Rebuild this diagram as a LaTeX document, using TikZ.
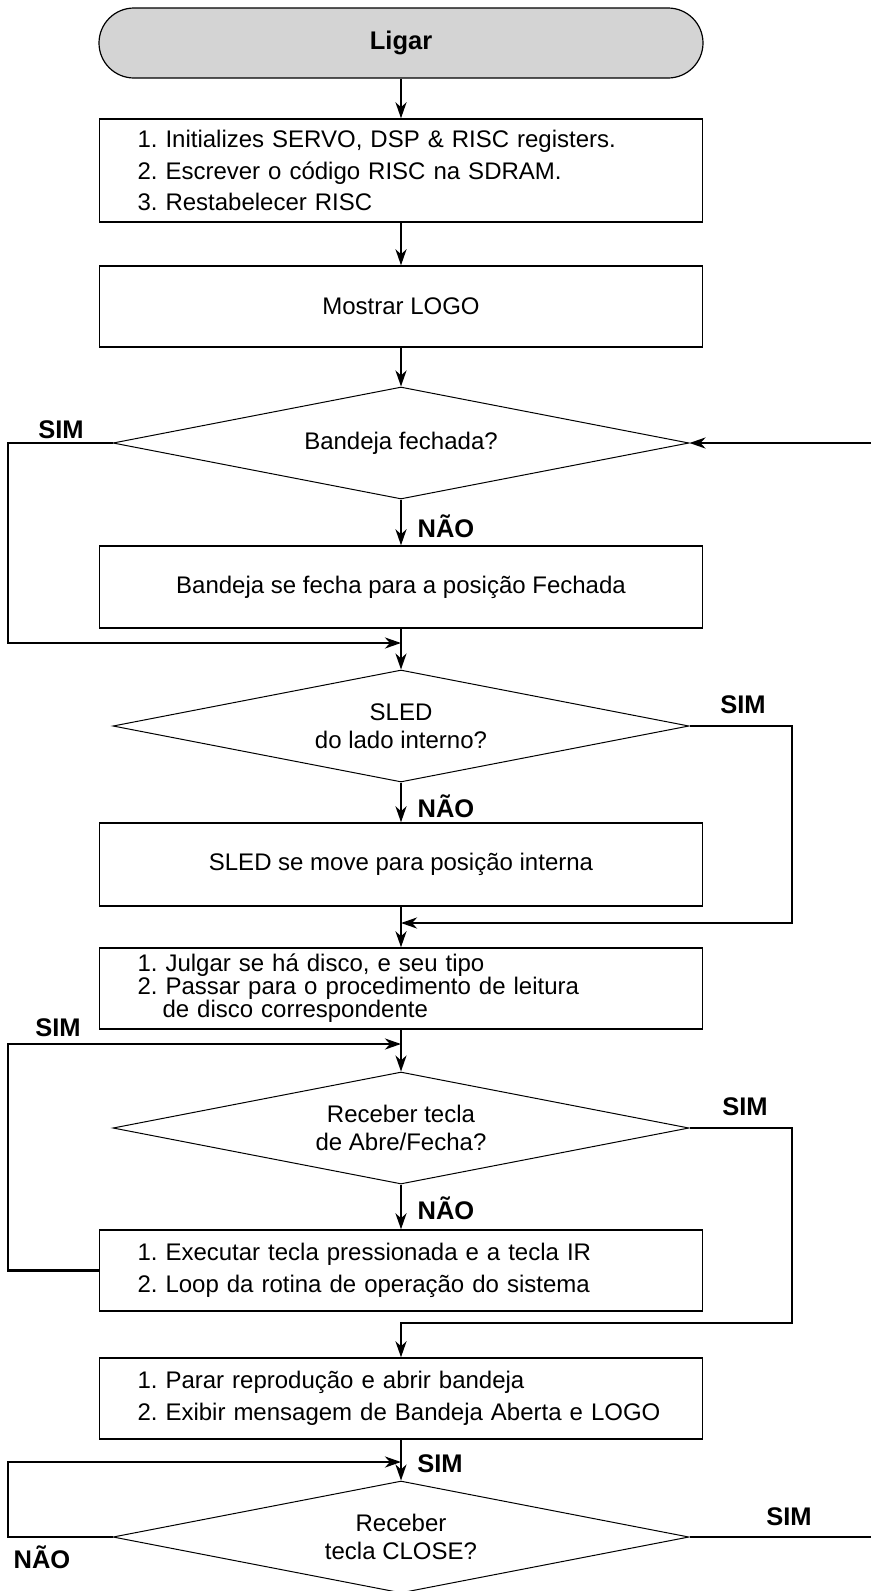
\documentclass[tikz,border=0pt]{standalone}
\usepackage{fontspec}
\setmainfont{Liberation Sans}
\usetikzlibrary{shapes.geometric,arrows.meta}
\definecolor{termgray}{gray}{0.83}
\frenchspacing
\begin{document}
\begin{tikzpicture}[x=0.5pt,y=-0.5pt,
  conn/.style={line width=1.25pt},
  arr/.style={conn,-{Stealth[length=8pt,width=5.5pt,inset=2.5pt]}},
  procbox/.style={draw,line width=0.7pt,minimum width=301.5pt,inner sep=0pt,
    font=\fontsize{12}{15.7}\selectfont},
  listbox/.style={procbox,text width=263.5pt,align=left,inner xsep=19pt},
  decision/.style={draw,line width=0.5pt,diamond,aspect=5.14,minimum width=288pt,
    minimum height=56pt,inner sep=0pt,align=center,font=\fontsize{12}{14}\selectfont},
  lbl/.style={font=\fontsize{12.75}{14}\selectfont\bfseries,inner sep=0pt},
  terminal/.style={draw,line width=0.6pt,fill=termgray,rounded corners=17.5pt,
    minimum width=302pt,minimum height=35pt,font=\fontsize{12.75}{14}\selectfont\bfseries}
]
\fill[white] (0,0) rectangle (871,1591);
\clip (0,0) rectangle (871,1591);

% process steps and decisions
\node[terminal] (start) at (401,43) {Ligar};
\node[listbox,minimum height=51.5pt] (init) at (401,170.5)
  {1. Initializes SERVO, DSP \& RISC registers.\\2. Escrever o código RISC na SDRAM.\\3. Restabelecer RISC};
\node[procbox,minimum height=40.5pt] (logo) at (401,306.5) {Mostrar LOGO};
\node[decision] (qtray) at (401,443) {Bandeja fechada?};
\node[procbox,minimum height=41pt] (close) at (401,587) {Bandeja se fecha para a posição Fechada};
\node[decision] (qsled) at (401,726) {SLED\\do lado interno?};
\node[procbox,minimum height=41.5pt] (sled) at (401,864.5) {SLED se move para posição interna};
\node[listbox,minimum height=40.5pt,font=\fontsize{12}{11.5}\selectfont] (disc) at (401,988.5)
  {1. Julgar se há disco, e seu tipo\\2. Passar para o procedimento de leitura\\\hspace*{12.5pt}de disco correspondente};
\node[decision] (qkey) at (401,1128) {Receber tecla\\de Abre/Fecha?};
\node[listbox,minimum height=40.5pt] (exec) at (401,1270.5)
  {1. Executar tecla pressionada e a tecla IR\\2. Loop da rotina de operação do sistema};
\node[listbox,minimum height=40.5pt,font=\fontsize{12}{16}\selectfont] (open) at (401,1398.5)
  {1. Parar reprodução e abrir bandeja\\2. Exibir mensagem de Bandeja Aberta e LOGO};
\node[decision] (qclose) at (401,1537) {Receber\\tecla CLOSE?};

% routing columns and merge points
\coordinate (L) at (8,0);
\coordinate (R) at (792,0);
\coordinate (E) at (871,0);
\coordinate (m1) at (401,643);
\coordinate (m2) at (401,923);
\coordinate (m3) at (401,1044);
\coordinate (m4) at (401,1323);
\coordinate (m5) at (401,1462);

% connectors
\draw[arr] (start) -- (init);
\draw[arr] (init) -- (logo);
\draw[arr] (logo) -- (qtray);
\draw[arr] (qtray) -- (close);
\draw[arr] (qtray.west) -| (L |- m1) -- (m1);
\draw[arr] (E |- qtray.east) -- (qtray.east);
\draw[arr] (close) -- (qsled);
\draw[arr] (qsled) -- (sled);
\draw[arr] (qsled.east) -| (R |- m2) -- (m2);
\draw[arr] (sled) -- (disc);
\draw[arr] (disc) -- (qkey);
\draw[arr] (qkey) -- (exec);
\draw[arr] (exec.west) -| (L |- m3) -- (m3);
\draw[arr] (qkey.east) -| (R |- m4) -| (open.north);
\draw[arr] (open) -- (qclose);
\draw[arr] (qclose.west) -| (L |- m5) -- (m5);
\draw[conn] (qclose.east) -- (E |- qclose.east);

% branch labels
\node[lbl] (simA) at (61,430) {SIM};
\node[lbl] (naoA) at (446,526) {NÃO};
\node[lbl] (simB) at (743,705) {SIM};
\node[lbl] (naoB) at (446,806) {NÃO};
\node[lbl] (simC) at (58,1028) {SIM};
\node[lbl] (simD) at (745,1107) {SIM};
\node[lbl] (naoC) at (446,1208) {NÃO};
\node[lbl] (simE) at (440,1464) {SIM};
\node[lbl] (simF) at (789,1517) {SIM};
\node[lbl] (naoD) at (42,1557) {NÃO};
\end{tikzpicture}
\end{document}
